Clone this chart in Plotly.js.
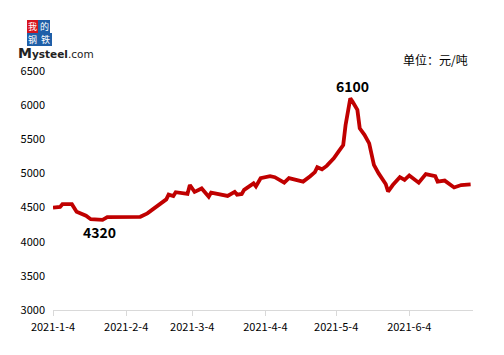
<!DOCTYPE html>
<html>
<head>
<meta charset="utf-8">
<script src="https://cdn.plot.ly/plotly-3.0.1.min.js"></script>
<style>html,body{margin:0;padding:0;background:#fff;}#chart{width:504px;height:355px;}</style>
</head>
<body>
<div id="chart"></div>
<script>
const dates = [
  '2021-01-04','2021-01-07','2021-01-08','2021-01-12','2021-01-14','2021-01-18','2021-01-20','2021-01-25','2021-01-27',
  '2021-02-10','2021-02-13','2021-02-17','2021-02-21','2021-02-22','2021-02-24','2021-02-25',
  '2021-03-02','2021-03-03','2021-03-05','2021-03-08','2021-03-10','2021-03-11','2021-03-12','2021-03-15','2021-03-19',
  '2021-03-22','2021-03-23','2021-03-25','2021-03-26','2021-03-30','2021-03-31',
  '2021-04-02','2021-04-06','2021-04-08','2021-04-12','2021-04-14','2021-04-17','2021-04-20','2021-04-23','2021-04-25',
  '2021-04-26','2021-04-28','2021-04-30',
  '2021-05-03','2021-05-05','2021-05-07','2021-05-08','2021-05-10','2021-05-11','2021-05-13','2021-05-14','2021-05-16',
  '2021-05-18','2021-05-20','2021-05-22','2021-05-25','2021-05-26','2021-05-28','2021-05-31',
  '2021-06-02','2021-06-04','2021-06-08','2021-06-11','2021-06-15','2021-06-16','2021-06-19','2021-06-23','2021-06-25',
  '2021-06-26','2021-06-30'
];
const prices = [
  4500,4510,4550,4550,4440,4380,4330,4320,4360,
  4365,4415,4510,4620,4690,4670,4725,
  4700,4830,4730,4780,4710,4660,4720,4700,4670,
  4730,4690,4700,4760,4855,4810,
  4930,4960,4945,4865,4930,4905,4880,4960,5020,
  5090,5060,5110,
  5220,5320,5415,5710,6100,6050,5930,5660,5565,
  5440,5125,5000,4845,4735,4830,4945,
  4905,4970,4865,4990,4960,4880,4895,4795,4810,
  4830,4840
];
const tickDates = ['2021-01-04','2021-02-04','2021-03-04','2021-04-04','2021-05-04','2021-06-04'];
const tickLabels = ['2021-1-4','2021-2-4','2021-3-4','2021-4-4','2021-5-4','2021-6-4'];
const yTicks = [3000,3500,4000,4500,5000,5500,6000,6500];
const peakLabel = {date:'2021-05-11', value:6100, text:'6100'};
const lowLabel = {date:'2021-01-23 16:00', value:4320, text:'4320'};
const unitText = '单位：元/吨';
const logoChars = ['我','的','钢','铁'];

const FONT = '"Noto Sans CJK SC", "Noto Sans", sans-serif';
const px = x => (x - 53) / 420;
const py = y => (310 - y) / 239;

const trace = {
  x: dates, y: prices, type: 'scatter', mode: 'lines',
  line: {color: '#C00000', width: 3.8}, hoverinfo: 'skip'
};

const logoRects = [
  [27,20,38,33,'#D7131D'],
  [38,20,50,33,'#1F5FA8'],
  [27,33,38,46,'#1F5FA8'],
  [38,33,52,46,'#1F5FA8']
];
const shapes = logoRects.map(r => ({
  type:'rect', xref:'paper', yref:'paper',
  x0:px(r[0]), x1:px(r[2]), y0:py(r[3]), y1:py(r[1]),
  fillcolor:r[4], line:{width:0}, layer:'above'
}));
const logoAnn = logoRects.map((r,i) => ({
  xref:'paper', yref:'paper', x:px((r[0]+r[2])/2), y:py((r[1]+r[3])/2),
  xanchor:'center', yanchor:'middle', showarrow:false, text:logoChars[i],
  font:{family:FONT, size:9, color:'#ffffff'}, borderpad:0
}));

const annotations = [
  {x:peakLabel.date, y:6100, xref:'x', yref:'y', text:'<b>'+peakLabel.text+'</b>', showarrow:false,
   yshift:12, xanchor:'center', yanchor:'middle', font:{family:FONT, size:14, color:'#000'}},
  {x:lowLabel.date, y:lowLabel.value, xref:'x', yref:'y', text:'<b>'+lowLabel.text+'</b>', showarrow:false,
   yshift:-12, xanchor:'center', yanchor:'middle', font:{family:FONT, size:14, color:'#000'}},
  {xref:'paper', yref:'paper', x:px(470), y:py(59), xanchor:'right', yanchor:'middle', showarrow:false,
   text:unitText, font:{family:FONT, size:12, color:'#000'}},
  {xref:'paper', yref:'paper', x:px(17), y:py(53), xanchor:'left', yanchor:'middle', showarrow:false, borderpad:0,
   text:'<b><span style="font-size:14px">M</span>ysteel</b>.com', font:{family:'"DejaVu Sans", sans-serif', size:10.5, color:'#222'}}
].concat(logoAnn);

const layout = {
  width:504, height:355,
  margin:{l:53, r:31, t:71, b:45, pad:0},
  paper_bgcolor:'#fff', plot_bgcolor:'#fff',
  showlegend:false,
  font:{family:FONT, size:11, color:'#000'},
  xaxis:{
    type:'date', range:['2021-01-04','2021-07-01'],
    tickmode:'array', tickvals:tickDates, ticktext:tickLabels,
    showgrid:false, zeroline:false,
    showline:true, linecolor:'#d9d9d9', linewidth:1,
    ticks:'outside', ticklen:5, tickcolor:'#d9d9d9', tickwidth:1,
    tickfont:{family:FONT, size:11, color:'#000'}, ticklabelstandoff:2,
    fixedrange:true
  },
  yaxis:{
    range:[3000,6500], tickmode:'array', tickvals:yTicks,
    showgrid:false, zeroline:false, showline:false, ticks:'',
    tickfont:{family:FONT, size:11, color:'#000'}, ticklabelstandoff:7,
    fixedrange:true
  },
  shapes:shapes,
  annotations:annotations
};

Plotly.newPlot('chart', [trace], layout, {displayModeBar:false, staticPlot:true});
</script>
</body>
</html>
